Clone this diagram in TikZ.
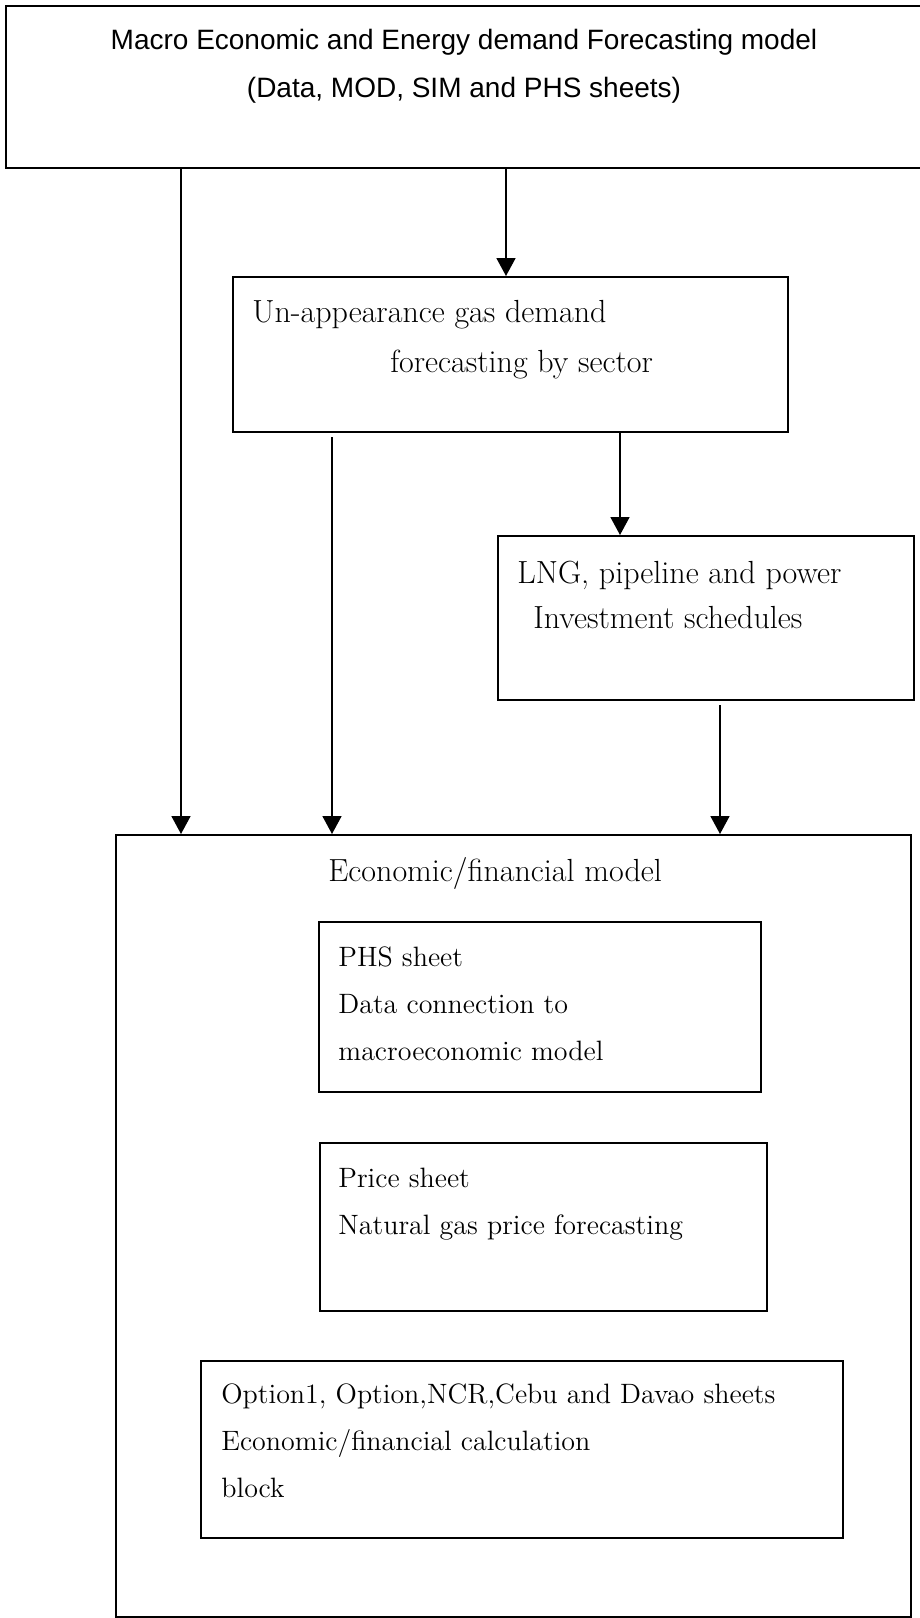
\documentclass[tikz,border=0pt]{standalone}
\usepackage{fontspec}
\newfontfamily\titlefont{Liberation Sans}
\usetikzlibrary{arrows.meta}

\begin{document}
\begin{tikzpicture}[x=0.5pt, y=-0.5pt,
    boxStyle/.style={rectangle, draw, line width=1pt, inner sep=0pt, anchor=north west},
    textStyle/.style={anchor=north west, inner sep=0pt, align=left},
    arrowStyle/.style={line width=0.85pt, -{Triangle[length=9pt, width=9.5pt]}}]
                    \useasboundingbox (0,0) rectangle (920,1618);

                    % boxes
                    \node[boxStyle, minimum width=460pt,   minimum height=81pt]   (macro_0)  at (  5,   5) {};
                    \node[boxStyle, minimum width=277.5pt, minimum height=77.5pt] (gas_0)    at (232, 276) {};
                    \node[boxStyle, minimum width=208pt,   minimum height=82pt]   (lng_0)    at (497, 535) {};
                    \node[boxStyle, minimum width=397.5pt, minimum height=391pt]  (econ_0)   at (115, 834) {};
                    \node[boxStyle, minimum width=221pt,   minimum height=85pt]   (phs_0)    at (318, 921) {};
                    \node[boxStyle, minimum width=223.5pt, minimum height=84pt]   (price_0)  at (319,1142) {};
                    \node[boxStyle, minimum width=321pt,   minimum height=88.5pt] (option_0) at (200,1360) {};

                    % texts
                    \node[anchor=north, inner sep=0pt, align=center, font=\titlefont\fontsize{14}{24}\selectfont] (macro_T) at (464, 29)
                        {Macro Economic and Energy demand Forecasting model\\(Data, MOD, SIM and PHS sheets)};
                    \node[textStyle, font=\fontsize{16}{25}\selectfont] (gas_T) at (252, 300)
                        {Un-appearance gas demand\\\hspace*{69pt}forecasting by sector};
                    \node[textStyle, font=\fontsize{16}{22.5}\selectfont] (lng_T) at (517, 560.5)
                        {LNG, pipeline and power\\\hspace*{8pt}Investment schedules};
                    \node[anchor=base west, inner sep=0pt, font=\fontsize{16}{20}\selectfont] (econ_T) at (328, 881)
                        {Economic/financial model};
                    \node[textStyle, font=\fontsize{14}{23.5}\selectfont] (phs_T) at (338, 946.5)
                        {PHS sheet\\Data connection to\\macroeconomic model};
                    \node[textStyle, font=\fontsize{14}{23.5}\selectfont] (price_T) at (338, 1167.5)
                        {Price sheet\\Natural gas price forecasting};
                    \node[textStyle, font=\fontsize{14}{23.5}\selectfont] (option_T) at (221, 1383.5)
                        {Option1, Option,NCR,Cebu and Davao sheets\\Economic/financial calculation\\block};

                    % arrows
                    \draw[arrowStyle] ([xshift=88pt]macro_0.south west) -- ([xshift=33pt]econ_0.north west);
                    \draw[arrowStyle] ([xshift=250.5pt]macro_0.south west) -- ([xshift=137pt]gas_0.north west);
                    \draw[arrowStyle] ([xshift=50pt, yshift=-2pt]gas_0.south west) -- ([xshift=108.5pt]econ_0.north west);
                    \draw[arrowStyle] ([xshift=194pt]gas_0.south west) -- ([xshift=61.5pt]lng_0.north west);
                    \draw[arrowStyle] ([xshift=111.5pt, yshift=-2pt]lng_0.south west) -- ([xshift=302.5pt]econ_0.north west);
                \end{tikzpicture}
\end{document}
